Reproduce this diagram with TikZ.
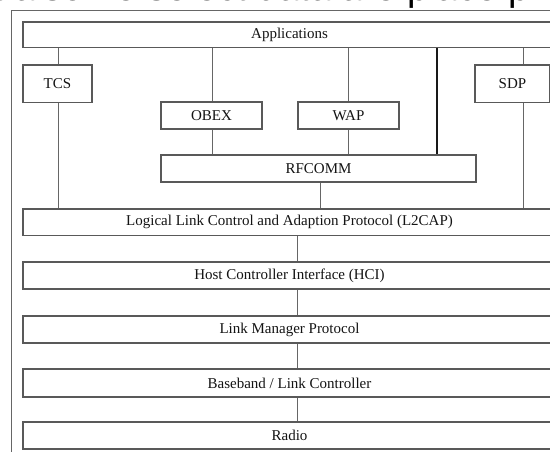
\documentclass[tikz,border=0pt]{standalone}
\usepackage{fontspec}
\setmainfont{Liberation Serif}
\newfontfamily\headfont{Liberation Sans}
\begin{document}
\begin{tikzpicture}[x=1pt,y=-1pt,
  layer/.style={draw=black!65,line width=1.2pt,rectangle,inner sep=0pt,
    text=black!92,font=\fontsize{15}{18}\selectfont},
  link/.style={draw=black!60,line width=0.9pt},
  heavylink/.style={draw=black!90,line width=1.5pt}]
\useasboundingbox (0,0) rectangle (550,451);
\clip (0,0) rectangle (550,451);
\fill[white] (0,0) rectangle (550,451);

% running text of the page above the figure
\node[anchor=base west,inner sep=0pt,font=\headfont\fontsize{38}{40}\selectfont,text=black]
  (pagetext) at (-47,0.4) {est also ne select data are place pre};

% figure frame
\draw[draw=black!60,line width=0.9pt] (11.5,460) -- (11.5,10) -- (560,10);

% protocol stack
\node[layer,minimum width=533pt,minimum height=25.5pt] (apps)   at (289.5,34.75) {Applications};
\node[layer,minimum width=69pt, minimum height=37.5pt] (tcs)    at (57.5,83.75)  {TCS};
\node[layer,minimum width=75pt, minimum height=37.5pt] (sdp)    at (512.5,83.75) {SDP};
\node[layer,minimum width=101pt,minimum height=27pt]   (obex)   at (211.5,115.5) {OBEX};
\node[layer,minimum width=101pt,minimum height=27pt]   (wap)    at (348.5,115.5) {WAP};
\node[layer,minimum width=315pt,minimum height=27pt]   (rfcomm) at (318.5,168.5) {RFCOMM};
\node[layer,minimum width=533pt,minimum height=26.5pt] (l2cap)  at (289.5,222.25) {Logical Link Control and Adaption Protocol (L2CAP)};
\node[layer,minimum width=533pt,minimum height=27pt]   (hci)    at (289.5,275.5) {Host Controller Interface (HCI)};
\node[layer,minimum width=533pt,minimum height=27pt]   (lmp)    at (289.5,329.5) {Link Manager Protocol};
\node[layer,minimum width=533pt,minimum height=28pt]   (bb)     at (289.5,383)   {Baseband / Link Controller};
\node[layer,minimum width=533pt,minimum height=27pt]   (radio)  at (289.5,435.5) {Radio};

% connector columns
\coordinate (tcsx)   at (58,0);
\coordinate (sdpx)   at (523,0);
\coordinate (obexx)  at (212,0);
\coordinate (wapx)   at (348,0);
\coordinate (directx) at (437,0);
\coordinate (rfx)    at (320,0);
\coordinate (stackx) at (297,0);

\draw[link] (apps.south -| tcsx) -- (tcs.north -| tcsx);
\draw[link] (tcs.south -| tcsx) -- (l2cap.north -| tcsx);
\draw[link] (apps.south -| sdpx) -- (sdp.north -| sdpx);
\draw[link] (sdp.south -| sdpx) -- (l2cap.north -| sdpx);
\draw[link] (apps.south -| obexx) -- (obex.north -| obexx);
\draw[link] (obex.south -| obexx) -- (rfcomm.north -| obexx);
\draw[link] (apps.south -| wapx) -- (wap.north -| wapx);
\draw[link] (wap.south -| wapx) -- (rfcomm.north -| wapx);
\draw[heavylink] (apps.south -| directx) -- (rfcomm.north -| directx);
\draw[link] (rfcomm.south -| rfx) -- (l2cap.north -| rfx);
\draw[link] (l2cap.south -| stackx) -- (hci.north -| stackx);
\draw[link] (hci.south -| stackx) -- (lmp.north -| stackx);
\draw[link] (lmp.south -| stackx) -- (bb.north -| stackx);
\draw[link] (bb.south -| stackx) -- (radio.north -| stackx);
\end{tikzpicture}
\end{document}
